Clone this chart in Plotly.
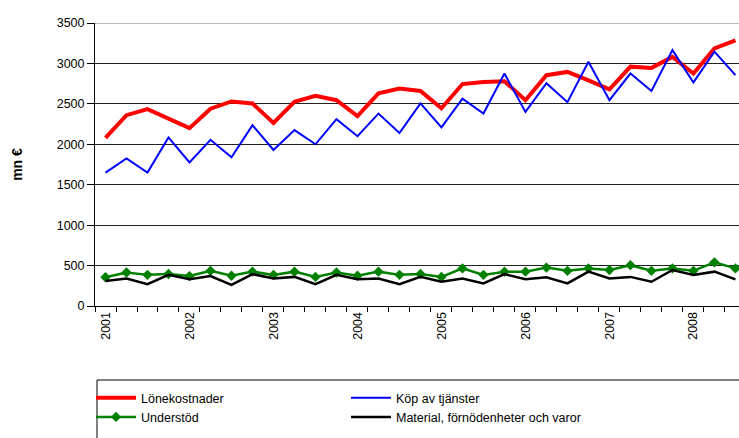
import plotly.graph_objects as go

# quarterly data 2001Q1 - 2008Q3
quarters = list(range(31))
year_labels = ["2001", "2002", "2003", "2004", "2005", "2006", "2007", "2008"]
year_pos = [0, 4, 8, 12, 16, 20, 24, 28]

lonekostnader = [2080, 2360, 2435, 2320, 2200, 2440, 2530, 2505,
                 2265, 2525, 2600, 2545, 2350, 2630, 2690, 2660,
                 2445, 2745, 2770, 2780, 2545, 2855, 2895, 2790,
                 2680, 2960, 2945, 3080, 2875, 3185, 3285]
kop_tjanster = [1650, 1825, 1650, 2085, 1775, 2055, 1840, 2235,
                1930, 2175, 2000, 2310, 2100, 2380, 2140, 2505,
                2210, 2565, 2380, 2875, 2400, 2755, 2520, 3020,
                2545, 2875, 2660, 3165, 2765, 3145, 2855]
understod = [355, 415, 385, 395, 370, 435, 375, 425,
             385, 425, 360, 415, 375, 425, 385, 395,
             360, 465, 385, 425, 425, 475, 435, 465,
             445, 505, 435, 465, 435, 540, 465]
material = [310, 340, 270, 385, 330, 370, 260, 395,
            340, 360, 270, 385, 330, 340, 270, 360,
            300, 340, 280, 395, 330, 355, 280, 425,
            340, 360, 300, 445, 385, 425, 330]

font = "Liberation Sans, Arial, sans-serif"
W, H = 739, 438

fig = go.Figure()
fig.add_trace(go.Scatter(x=quarters, y=lonekostnader, name="Lönekostnader",
                         mode="lines", line=dict(color="#ff0000", width=4)))
fig.add_trace(go.Scatter(x=quarters, y=kop_tjanster, name="Köp av tjänster",
                         mode="lines", line=dict(color="#0000ff", width=2)))
fig.add_trace(go.Scatter(x=quarters, y=understod, name="Understöd",
                         mode="lines+markers", line=dict(color="#008000", width=2.5),
                         marker=dict(symbol="diamond", size=8, color="#008000")))
fig.add_trace(go.Scatter(x=quarters, y=material, name="Material, förnödenheter och varor",
                         mode="lines", line=dict(color="#000000", width=2.5)))

fig.update_layout(
    width=W, height=H,
    margin=dict(l=95, r=0, t=23, b=132, autoexpand=False),
    paper_bgcolor="white", plot_bgcolor="white",
    font=dict(family=font, size=12, color="black"),
    legend=dict(orientation="h", xref="container", yref="container",
                x=91 / W, xanchor="left", y=1 - 383 / H, yanchor="top",
                entrywidth=200, itemwidth=40, font=dict(size=12.5),
                bgcolor="rgba(0,0,0,0)", tracegroupgap=0),
    shapes=[dict(type="rect", xref="paper", yref="paper",
                 x0=2 / 644, x1=1.05, y0=-74 / 283, y1=-0.55,
                 line=dict(color="black", width=1)),
            dict(type="line", xref="paper", yref="y", x0=0, x1=1, y0=3500, y1=3500,
                 line=dict(color="#a0a0a0", width=1.5))],
)

fig.update_xaxes(
    range=[-0.5, 30.17], tickmode="array", tickvals=year_pos, ticktext=year_labels,
    tickangle=-90, ticks="", showgrid=False, zeroline=False,
    showline=True, linecolor="black", linewidth=1, automargin=False,
    minor=dict(tickmode="linear", tick0=-0.5, dtick=1, ticks="outside",
               ticklen=5, tickcolor="black", showgrid=False),
    tickfont=dict(size=12.5),
)
fig.update_yaxes(
    range=[0, 3500], dtick=500, tick0=0, showgrid=True, gridcolor="#222222",
    gridwidth=1.2, zeroline=False, showline=True, linecolor="black", linewidth=1,
    ticks="outside", ticklen=7, tickcolor="black", tickfont=dict(size=12.5),
    automargin=False,
    title=dict(text="<b>mn €</b>", font=dict(size=14), standoff=30),
)

# page body has a default 8px margin; drop it so the figure sits at the corner
fig.write_html("out.html", config={"displayModeBar": False},
               post_script="document.body.style.margin='0';")
